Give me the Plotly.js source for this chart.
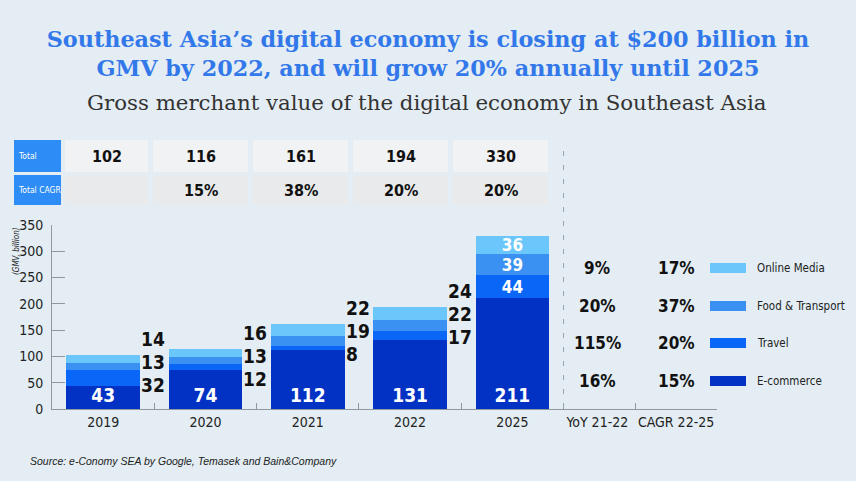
<!DOCTYPE html>
<html>
<head>
<meta charset="utf-8">
<script src="https://cdn.plot.ly/plotly-3.0.1.min.js"></script>
<style>
  html, body { margin: 0; padding: 0; background: #e3edf3; }
  #chart { width: 856px; height: 481px; }
</style>
</head>
<body>
<div id="chart"></div>
<script>
// ---------- DATA ----------
const years = ["2019", "2020", "2021", "2022", "2025"];
const ecommerce = [43, 74, 112, 131, 211];
const travel = [32, 12, 8, 17, 44];
const foodTransport = [13, 13, 19, 22, 39];
const onlineMedia = [14, 16, 22, 24, 36];
const totals = [102, 116, 161, 194, 330];
const totalCAGR = ["", "15%", "38%", "20%", "20%"];
const seriesNames = ["Online Media", "Food & Transport", "Travel", "E-commerce"];
const yoy2122 = ["9%", "20%", "115%", "16%"];
const cagr2225 = ["17%", "37%", "20%", "15%"];
const extraCols = ["YoY 21-22", "CAGR 22-25"];

// ---------- STYLE ----------
const colors = {
  "E-commerce": "#0232c4",
  "Travel": "#0a66f7",
  "Food & Transport": "#3b91f2",
  "Online Media": "#6bc7fb"
};
const bg = "#e3edf3";
const narrow = "DejaVu Sans Condensed, Liberation Sans Narrow, Arial Narrow, sans-serif";
const barW = 0.72;
const extraX = [4.83, 5.6];
const nf = (size, color, bold) => ({ family: narrow, size: size, color: color,
  weight: bold ? "bold" : "normal", stretch: "condensed" });

// plot area in pixels
const L = 52, R = 717, T = 225, B = 409;
const px = x => (x - L) / (R - L);
const py = y => (B - y) / (B - T);

const xs = years.map((_, i) => i);
const onlyLast = arr => arr.map((v, i) => i === arr.length - 1 ? String(v) : "");

function barTrace(name, vals, text, anchor, size) {
  return {
    type: "bar", name: name, x: xs, y: vals, width: barW,
    marker: { color: colors[name], line: { width: 0 } },
    text: text, textposition: "inside", insidetextanchor: anchor,
    textfont: nf(size, "#ffffff", true),
    constraintext: "none", cliponaxis: false, hoverinfo: "skip", showlegend: false
  };
}

const data = [
  barTrace("E-commerce", ecommerce, ecommerce.map(String), "start", 19),
  barTrace("Travel", travel, onlyLast(travel), "middle", 17),
  barTrace("Food & Transport", foodTransport, onlyLast(foodTransport), "middle", 17),
  barTrace("Online Media", onlineMedia, onlyLast(onlineMedia), "middle", 17),
  { type: "scatter", x: [0], y: [0], xaxis: "x2", mode: "markers",
    marker: { opacity: 0 }, hoverinfo: "skip", showlegend: false }
];

const shapes = [];
const annotations = [];

// Table
const cellX = [[65, 148], [153, 248], [253, 348], [353, 448], [453, 548]];
const rows = [{ y0: 140, y1: 172, label: "Total", vals: totals.map(String), fill: "#f1f2f3" },
              { y0: 175, y1: 205, label: "Total CAGR", vals: totalCAGR, fill: "#e9eaeb" }];
rows.forEach(r => {
  shapes.push({ type: "rect", xref: "paper", yref: "paper", x0: px(14), x1: px(61),
    y0: py(r.y1), y1: py(r.y0), fillcolor: "#2d8cf6", line: { width: 0 }, layer: "below" });
  annotations.push({ xref: "paper", yref: "paper", x: px(16), y: py((r.y0 + r.y1) / 2),
    xanchor: "left", yanchor: "middle", text: r.label, showarrow: false,
    font: nf(8.5, "#ffffff", false) });
  cellX.forEach((c, i) => {
    shapes.push({ type: "rect", xref: "paper", yref: "paper", x0: px(c[0]), x1: px(c[1]),
      y0: py(r.y1), y1: py(r.y0), fillcolor: r.fill, line: { width: 0 }, layer: "below" });
    if (r.vals[i]) annotations.push({ xref: "paper", yref: "paper", x: px((c[0] + c[1]) / 2),
      y: py((r.y0 + r.y1) / 2), xanchor: "center", yanchor: "middle", text: r.vals[i],
      showarrow: false, font: nf(16, "#111111", true) });
  });
});

// Dashed separator
shapes.push({ type: "line", xref: "x", yref: "paper", x0: 4.5, x1: 4.5, y0: py(408), y1: py(148),
  line: { color: "#9aa3ab", width: 1, dash: "5px,9px" } });

// Side labels for 2019-2022
const sideSeries = [onlineMedia, foodTransport, travel];
const sideShift = [16, -7, -30];
years.forEach((yr, i) => {
  if (i === years.length - 1) return;
  const top = ecommerce[i] + travel[i] + foodTransport[i] + onlineMedia[i];
  sideSeries.forEach((s, k) => {
    annotations.push({ xref: "x", yref: "y", x: i + barW / 2, y: top, xanchor: "left",
      yanchor: "middle", xshift: 0, yshift: sideShift[k], text: String(s[i]), showarrow: false,
      borderpad: 0, font: nf(19, "#111111", true) });
  });
});

// Growth columns + legend
const rowY = [268, 306, 343, 381];
seriesNames.forEach((n, k) => {
  annotations.push({ xref: "x", yref: "paper", x: extraX[0], y: py(rowY[k]), text: yoy2122[k],
    showarrow: false, xanchor: "center", yanchor: "middle", font: nf(17, "#111111", true) });
  annotations.push({ xref: "x", yref: "paper", x: extraX[1], y: py(rowY[k]), text: cagr2225[k],
    showarrow: false, xanchor: "center", yanchor: "middle", font: nf(17, "#111111", true) });
  shapes.push({ type: "rect", xref: "paper", yref: "paper", x0: px(710), x1: px(746),
    y0: py(rowY[k] + 5), y1: py(rowY[k] - 5), fillcolor: colors[n], line: { width: 0 } });
  annotations.push({ xref: "paper", yref: "paper", x: px(755), y: py(rowY[k]), text: n,
    showarrow: false, xanchor: "left", yanchor: "middle", font: nf(11.5, "#222222", false) });
});

// Y axis title
annotations.push({ xref: "paper", yref: "paper", x: px(16), y: py(251), text: "<i>(GMV, billion)</i>",
  textangle: -90, showarrow: false, xanchor: "center", yanchor: "middle",
  font: nf(8, "#222222", false) });

// Subtitle
annotations.push({ xref: "paper", yref: "paper", x: px(427), y: py(103),
  text: "Gross merchant value of the digital economy in Southeast Asia", showarrow: false,
  xanchor: "center", yanchor: "middle",
  font: { family: "DejaVu Serif, serif", size: 21.3, color: "#333333" } });

// Source
annotations.push({ xref: "paper", yref: "paper", x: px(28), y: py(461),
  text: "Source: e-Conomy SEA by Google, Temasek and Bain&Company", showarrow: false,
  xanchor: "left", yanchor: "middle",
  font: { family: "Liberation Sans, Arial, sans-serif", size: 10.5, color: "#222222", style: "italic" } });

const layout = {
  width: 856, height: 481,
  paper_bgcolor: bg, plot_bgcolor: bg,
  margin: { l: L, r: 856 - R, t: T, b: 481 - B, pad: 0 },
  barmode: "stack", bargap: 0,
  title: {
    text: "Southeast Asia’s digital economy is closing at $200 billion in<br>GMV by 2022, and will grow 20% annually until 2025",
    x: 0.5, xref: "container", xanchor: "center",
    y: 1 - 47 / 481, yref: "container", yanchor: "top",
    font: { family: "DejaVu Serif, serif", size: 22.3, color: "#3378ea", weight: "bold" }
  },
  xaxis: {
    range: [-0.5, 6.0], tickvals: xs.concat(extraX), ticktext: years.concat(extraCols),
    ticks: "", showgrid: false, zeroline: false, showline: true, linecolor: "#8f979f", linewidth: 1,
    tickfont: nf(14, "#222222", false), fixedrange: true
  },
  xaxis2: {
    overlaying: "x", range: [-0.5, 6.0], tickvals: [0.5, 1.5, 2.5, 3.5, 4.5, 5.2, 6.0],
    ticks: "inside", ticklen: 6, tickcolor: "#8f979f", showticklabels: false,
    showgrid: false, zeroline: false, showline: false, side: "bottom", anchor: "y"
  },
  yaxis: {
    range: [0, 350], dtick: 50, ticks: "inside", ticklen: 13, tickcolor: "#8f979f",
    showgrid: false, zeroline: false, showline: true, linecolor: "#8f979f", linewidth: 1,
    tickfont: nf(14, "#222222", false), ticklabelstandoff: 5
  },
  shapes: shapes,
  annotations: annotations,
  showlegend: false
};

Plotly.newPlot("chart", data, layout, { displayModeBar: false, staticPlot: true });
</script>
</body>
</html>
